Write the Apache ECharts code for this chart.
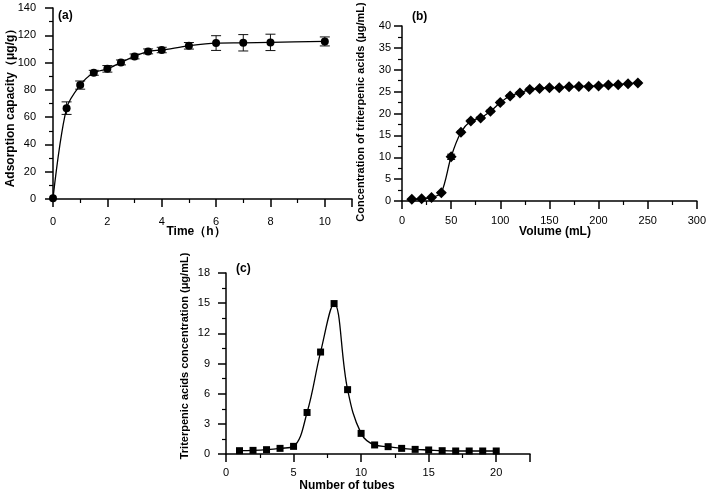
<!DOCTYPE html>
<html>
<head>
<meta charset="utf-8">
<script src="https://cdn.jsdelivr.net/npm/echarts@6/dist/echarts.min.js"></script>
<style>
html,body{margin:0;padding:0;background:#fff;}
#chart{width:709px;height:494px;}
</style>
</head>
<body>
<div id="chart"></div>
<script>
// Panel (a)
const timeH = [0, 0.5, 1, 1.5, 2, 2.5, 3, 3.5, 4, 5, 6, 7, 8, 10];
const adsorption = [0.5, 66.6, 83.5, 92.5, 95.4, 100.1, 104.5, 108.2, 109.2, 112.3, 114.3, 114.5, 114.8, 115.5];
const adsorptionErr = [0, 4.6, 3.0, 1.8, 2.4, 1.8, 1.8, 1.8, 2.0, 2.4, 5.4, 6.0, 6.0, 3.3];
// Panel (b)
const volumeML = [10, 20, 30, 40, 50, 60, 70, 80, 90, 100, 110, 120, 130, 140, 150, 160, 170, 180, 190, 200, 210, 220, 230, 240];
const concB = [0.4, 0.5, 0.8, 1.9, 10.1, 15.7, 18.3, 19.0, 20.5, 22.5, 24.0, 24.7, 25.5, 25.7, 25.9, 25.9, 26.1, 26.2, 26.2, 26.3, 26.5, 26.6, 26.8, 27.0];
const concBErr = [0.1, 0.1, 0.1, 0.2, 0.6, 0.3, 0.3, 0.3, 0.3, 0.3, 0.3, 0.3, 0.3, 0.2, 0.2, 0.2, 0.2, 0.2, 0.2, 0.2, 0.2, 0.2, 0.2, 0.2];
// Panel (c)
const tubes = [1, 2, 3, 4, 5, 6, 7, 8, 9, 10, 11, 12, 13, 14, 15, 16, 17, 18, 19, 20];
const concC = [0.33, 0.36, 0.43, 0.56, 0.76, 4.13, 10.14, 14.96, 6.4, 2.05, 0.9, 0.73, 0.56, 0.46, 0.4, 0.33, 0.3, 0.3, 0.3, 0.3];

const FONT = '"Liberation Sans", Arial, sans-serif';
const pairs = (xs, ys) => xs.map((x, i) => [x, ys[i]]);
const triples = (xs, ys, es) => xs.map((x, i) => [x, ys[i], es[i]]);

function errRender(hw) {
  return function (params, api) {
    const x = api.value(0), y = api.value(1), e = api.value(2);
    if (!e) return null;
    const t = api.coord([x, y + e]), b = api.coord([x, y - e]);
    const st = { stroke: '#111', lineWidth: 1 };
    return {
      type: 'group', children: [
        { type: 'line', shape: { x1: t[0], y1: t[1], x2: b[0], y2: b[1] }, style: st },
        { type: 'line', shape: { x1: t[0] - hw, y1: t[1], x2: t[0] + hw, y2: t[1] }, style: st },
        { type: 'line', shape: { x1: b[0] - hw, y1: b[1], x2: b[0] + hw, y2: b[1] }, style: st }
      ]
    };
  };
}

function axisCommon(extra) {
  return Object.assign({
    type: 'value',
    splitLine: { show: false },
    axisLine: { show: true, lineStyle: { color: '#000', width: 1.5 } },
    axisTick: { show: true, length: 8, lineStyle: { color: '#000', width: 1.5 } },
    minorTick: { show: true, splitNumber: 2, length: 4, lineStyle: { color: '#000', width: 1.2 } },
    axisLabel: { color: '#000', fontSize: 11, fontFamily: FONT }
  }, extra);
}

const chart = echarts.init(document.getElementById('chart'), null, { renderer: 'canvas' });
const option = {
  backgroundColor: '#fff',
  animation: false,
  grid: [
    { left: 53, top: 8, width: 299, height: 191 },
    { left: 402, top: 26, width: 297, height: 175 },
    { left: 226, top: 273, width: 304, height: 181 }
  ],
  xAxis: [
    axisCommon({ gridIndex: 0, min: 0, max: 11, interval: 2,
      axisLabel: { color: '#000', fontSize: 11, fontFamily: FONT, margin: 17,
        formatter: v => (v % 2 === 0 ? String(v) : '') } }),
    axisCommon({ gridIndex: 1, min: 0, max: 300, interval: 50,
      axisLabel: { color: '#000', fontSize: 11, fontFamily: FONT, margin: 14 } }),
    axisCommon({ gridIndex: 2, min: 0, max: 22.5, interval: 5,
      axisLabel: { color: '#000', fontSize: 11, fontFamily: FONT, margin: 13,
        formatter: v => (v % 5 === 0 ? String(v) : '') } })
  ],
  yAxis: [
    axisCommon({ gridIndex: 0, min: 0, max: 140, interval: 20,
      axisLabel: { color: '#000', fontSize: 11, fontFamily: FONT, margin: 17 } }),
    axisCommon({ gridIndex: 1, min: 0, max: 40, interval: 5,
      axisLabel: { color: '#000', fontSize: 11, fontFamily: FONT, margin: 11 } }),
    axisCommon({ gridIndex: 2, min: 0, max: 18, interval: 3,
      axisLabel: { color: '#000', fontSize: 11, fontFamily: FONT, margin: 16 } })
  ],
  series: [
    { type: 'line', xAxisIndex: 0, yAxisIndex: 0, data: pairs(timeH, adsorption), smooth: 0.3,
      symbol: 'circle', symbolSize: 8, itemStyle: { color: '#000' }, lineStyle: { color: '#000', width: 1.3 }, z: 3 },
    { type: 'custom', xAxisIndex: 0, yAxisIndex: 0, data: triples(timeH, adsorption, adsorptionErr),
      renderItem: errRender(5), encode: { x: 0, y: 1 }, z: 2 },
    { type: 'line', xAxisIndex: 1, yAxisIndex: 1, data: pairs(volumeML, concB), smooth: 0.3,
      symbol: 'diamond', symbolSize: 11, itemStyle: { color: '#000' }, lineStyle: { color: '#000', width: 1.3 }, z: 3 },
    { type: 'custom', xAxisIndex: 1, yAxisIndex: 1, data: triples(volumeML, concB, concBErr),
      renderItem: errRender(4), encode: { x: 0, y: 1 }, z: 2 },
    { type: 'line', xAxisIndex: 2, yAxisIndex: 2, data: pairs(tubes, concC), smooth: 0.4,
      symbol: 'rect', symbolSize: 7, itemStyle: { color: '#000' }, lineStyle: { color: '#000', width: 1.3 }, z: 3 }
  ],
  graphic: [
    { type: 'text', left: 58, top: 10, style: { text: '(a)', font: 'bold 12px ' + FONT, fill: '#000' } },
    { type: 'text', left: 412, top: 11, style: { text: '(b)', font: 'bold 12px ' + FONT, fill: '#000' } },
    { type: 'text', left: 236, top: 263, style: { text: '(c)', font: 'bold 12px ' + FONT, fill: '#000' } },
    { type: 'text', x: 11, y: 105, rotation: Math.PI / 2,
      style: { text: 'Adsorption capacity（μg/g）', font: 'bold 12px ' + FONT, fill: '#000', align: 'center', verticalAlign: 'middle' } },
    { type: 'text', x: 196, y: 232,
      style: { text: 'Time（h）', font: 'bold 12px ' + FONT, fill: '#000', align: 'center', verticalAlign: 'middle' } },
    { type: 'text', x: 361, y: 112, rotation: Math.PI / 2,
      style: { text: 'Concentration of triterpenic acids (μg/mL)', font: 'bold 11px ' + FONT, fill: '#000', align: 'center', verticalAlign: 'middle' } },
    { type: 'text', x: 555, y: 232,
      style: { text: 'Volume (mL)', font: 'bold 12px ' + FONT, fill: '#000', align: 'center', verticalAlign: 'middle' } },
    { type: 'text', x: 185, y: 356, rotation: Math.PI / 2,
      style: { text: 'Triterpenic acids concentration (μg/mL)', font: 'bold 11px ' + FONT, fill: '#000', align: 'center', verticalAlign: 'middle' } },
    { type: 'text', x: 347, y: 486,
      style: { text: 'Number of tubes', font: 'bold 12px ' + FONT, fill: '#000', align: 'center', verticalAlign: 'middle' } }
  ]
};
chart.setOption(option);
</script>
</body>
</html>
